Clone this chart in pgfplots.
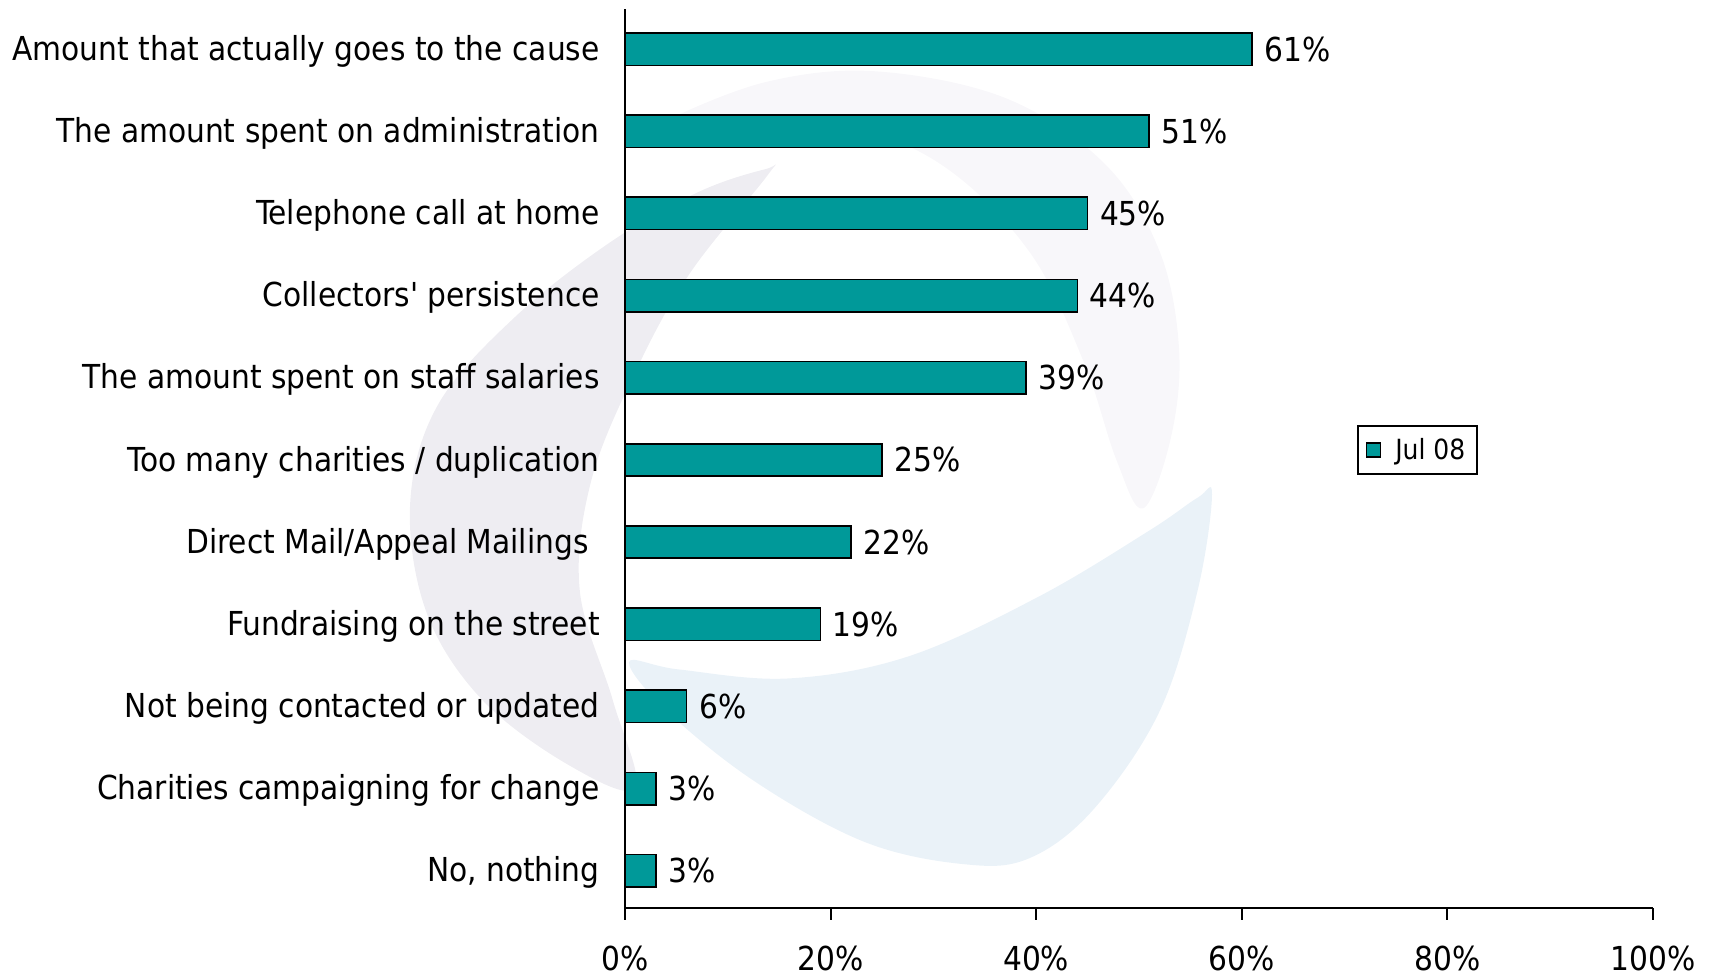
\documentclass[border=0pt]{standalone}
\usepackage{fontspec}
\setmainfont{DejaVu Sans Condensed}
\usepackage{pgfplots}
\pgfplotsset{compat=1.18}
\definecolor{barteal}{HTML}{009999}
\definecolor{wmgray}{HTML}{EEEDF2}
\definecolor{wmgray2}{HTML}{F8F7FA}
\definecolor{wmblue}{HTML}{EAF2F8}
\pgfplotsset{frame/.style={scale only axis, width=514pt, height=449.5pt,
  xmin=0, xmax=100, ymin=-0.454, ymax=10.489, clip=false}}
\begin{document}
\begin{tikzpicture}
% faint watermark behind the chart
\begin{axis}[frame, hide axis]
\fill[wmgray] plot[smooth cycle, tension=0.6] coordinates {
  (13.7,8.54) (7.3,8.27) (-1.2,7.67) (-10.7,6.74) (-18.2,5.67) (-20.9,4.47)
  (-19.3,3.14) (-13.9,2.08) (-5.4,1.28) (1.0,1.01) (-1.2,2.08) (-4.4,3.41)
  (-3.3,4.74) (1.0,6.07) (6.3,7.27) (13.9,8.47)};
\fill[wmgray2] plot[smooth cycle, tension=0.6] coordinates {
  (4.1,9.13) (13.7,9.6) (24.4,9.73) (37.1,9.40) (46.7,8.6) (52.0,7.54)
  (53.9,6.34) (53.1,5.27) (50.4,4.41) (47.8,5.0) (44.6,6.2) (39.3,7.54)
  (30.7,8.6) (20.1,9.13) (8.4,9.2)};
\fill[wmblue] plot[smooth cycle, tension=0.6] coordinates {
  (57.1,4.58) (55.7,3.41) (52.0,1.94) (45.6,0.75) (39.3,0.15) (32.9,0.08)
  (23.3,0.35) (12.7,1.08) (4.1,1.94) (0.4,2.54) (5.2,2.45) (15.9,2.34)
  (27.6,2.61) (40.3,3.34) (51.0,4.14) (55.7,4.54)};
\path (rel axis cs:-0.608,-0.0768) rectangle (rel axis cs:1.0603,1.010);
\end{axis}
\begin{axis}[
  frame,
  axis x line=bottom, axis y line=left,
  axis line style={-, line width=1pt, black},
  xbar, bar width=16.2pt,
  xtick={0,20,40,60,80,100},
  xticklabel={\pgfmathprintnumber[assume math mode=true]{\tick}\%},
  xticklabel style={font=\fontsize{16.5}{19}\selectfont, inner sep=0pt, yshift=-13pt},
  tick align=outside, major tick length=6pt,
  xtick style={black, line width=1pt},
  ytick={0,1,2,3,4,5,6,7,8,9,10},
  yticklabels={{No, nothing}, {Charities campaigning for change}, {Not being contacted or updated}, {Fundraising on the street}, {Direct Mail/Appeal Mailings\rule{5.5pt}{0pt}}, {Too many charities / duplication}, {The amount spent on staff salaries}, {Collectors\textquotesingle{} persistence}, {Telephone call at home}, {The amount spent on administration}, {Amount that actually goes to the cause}},
  ytick style={draw=none},
  yticklabel style={font=\fontsize{16.5}{19}\selectfont, anchor=east, inner sep=0pt, xshift=-6.5pt, yshift=-1pt},
  nodes near coords={\pgfmathprintnumber[assume math mode=true]{\pgfplotspointmeta}\%},
  point meta=x,
  nodes near coords style={font=\fontsize{16.5}{19}\selectfont, anchor=west, xshift=2.5pt, text=black},
  legend style={at={(0.712,0.537)}, anchor=north west, draw=black, line width=0.8pt,
    font=\fontsize{13.9}{16}\selectfont, inner xsep=4pt, inner ysep=4pt},
  legend image code/.code={\draw[fill=barteal, draw=black, line width=0.8pt] (0pt,-3.5pt) rectangle (7pt,3.5pt);},
]
\addplot[fill=barteal, draw=black, line width=0.8pt] coordinates {
  (3,0) (3,1) (6,2) (19,3) (22,4) (25,5) (39,6) (44,7) (45,8) (51,9) (61,10)};
\addlegendentry{\hspace{5pt}Jul 08}
\end{axis}
\end{tikzpicture}
\end{document}
